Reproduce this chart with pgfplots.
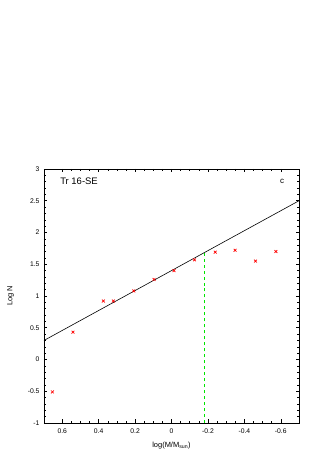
\documentclass[border=0pt]{standalone}
\usepackage{pgfplots}
\pgfplotsset{compat=1.18}
\usepackage{fontspec}
\setmainfont{Liberation Sans}
\begin{document}
\begin{tikzpicture}[x=1bp,y=1bp]
\path[use as bounding box] (0,0) rectangle (315,450);
\begin{axis}[
  at={(44bp,27bp)}, anchor=south west,
  scale only axis, width=255bp, height=254bp,
  xmin=-0.7, xmax=0.7, ymin=-1, ymax=3,
  x dir=reverse,
  xtick={-0.6,-0.4,-0.2,0,0.2,0.4,0.6},
  ytick={-1,-0.5,0,0.5,1,1.5,2,2.5,3},
  minor x tick num=3, minor y tick num=4,
  tick align=inside,
  major tick length=3.5bp, minor tick length=2bp,
  xticklabels={-0.6,-0.4,-0.2,0,0.2,0.4,0.6},
  yticklabels={-1,-0.5,0,0.5,1,1.5,2,2.5,3},
  tick label style={font=\fontsize{6.8}{8}\selectfont},
  xticklabel style={yshift=-2bp},
  yticklabel style={xshift=-1bp},
  axis line style={line width=0.8pt},
  every tick/.style={black, line width=0.5pt},
  xlabel={log(M/M$_{\mathrm{sun}}$)},
  ylabel={Log N},
  label style={font=\fontsize{7.5}{9}\selectfont},
  xlabel style={yshift=-2bp},
  ylabel style={yshift=7bp},
  clip=true,
]
\addplot[black, line width=0.6pt] coordinates {(0.7,0.30) (-0.7,2.50)};
\addplot[green!90!black, dashed, line width=0.7pt] coordinates {(-0.183,-1) (-0.183,1.688)};
\addplot[only marks, mark=x, mark size=2bp, red, mark options={line width=0.7pt}] coordinates {
(0.654,-0.51)
(0.541,0.43)
(0.374,0.92)
(0.319,0.92)
(0.207,1.08)
(0.096,1.26)
(-0.014,1.40)
(-0.126,1.57)
(-0.240,1.69)
(-0.349,1.72)
(-0.461,1.55)
(-0.573,1.70)
};
\node[anchor=west, font=\fontsize{9.5}{11}\selectfont] at (rel axis cs:0.05,0.95) {Tr 16-SE};
\node[anchor=east, font=\fontsize{8}{10}\selectfont] at (rel axis cs:0.955,0.95) {c};
\end{axis}
\end{tikzpicture}
\end{document}
